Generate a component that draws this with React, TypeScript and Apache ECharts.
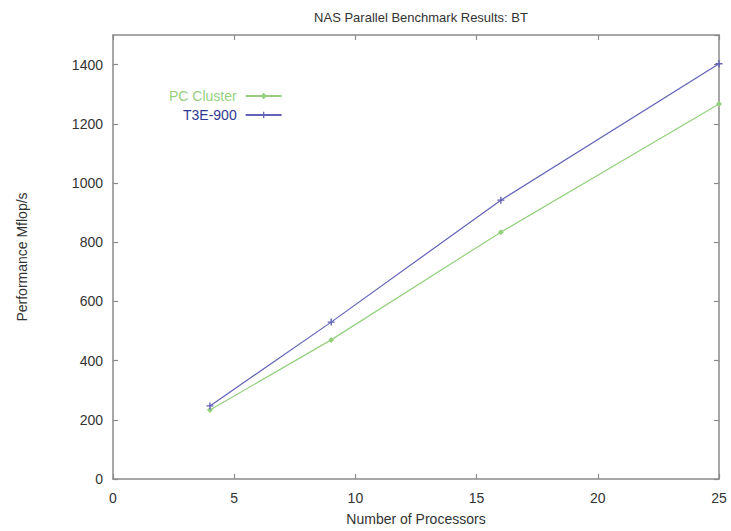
import React, { useEffect, useRef } from "react";
import * as echarts from "echarts";

const processors = [4, 9, 16, 25];
const pcCluster = [233, 470, 834, 1267];
const t3e900 = [247, 530, 942, 1403];
const seriesNames = ["PC Cluster", "T3E-900"];
const xTicks = [0, 5, 10, 15, 20, 25];
const yTicks = [0, 200, 400, 600, 800, 1000, 1200, 1400];

const GREEN = "#94d17e";
const BLUE = "#6262b8";
const AXIS = "#8a8a8a";
const FONT = "Liberation Sans, Arial, Helvetica, sans-serif";

export default function App() {
  const ref = useRef<HTMLDivElement>(null);
  useEffect(() => {
    if (!ref.current) return;
    const chart = echarts.init(ref.current, undefined, { renderer: "svg" });
    const toPairs = (ys: number[]) => processors.map((x, i) => [x, ys[i]]);
    const mainAxis = {
      axisLine: { show: true, onZero: false, lineStyle: { color: AXIS, width: 1.5 } },
      axisTick: { show: true, inside: true, length: 5, lineStyle: { color: AXIS, width: 1.2 } },
      splitLine: { show: false },
    };
    const mirrorAxis = {
      show: true,
      axisLine: { show: true, onZero: false, lineStyle: { color: AXIS, width: 1.5 } },
      axisTick: { show: true, inside: true, length: 5, lineStyle: { color: AXIS, width: 1.2 } },
      axisLabel: { show: false },
      splitLine: { show: false },
    };
    chart.setOption({
      animation: false,
      backgroundColor: "#ffffff",
      title: {
        text: "NAS Parallel Benchmark Results: BT",
        left: 416,
        textAlign: "center",
        top: 6,
        textStyle: { fontFamily: FONT, fontSize: 13, fontWeight: "normal", color: "#333" },
      },
      grid: {
        left: 113,
        right: 12,
        top: 35,
        bottom: 52,
        containLabel: false,
        outerBoundsMode: "none",
      },
      legend: {
        orient: "vertical",
        align: "right",
        left: 164,
        top: 84,
        itemGap: 5,
        itemWidth: 36,
        itemHeight: 8,
        data: [
          { name: seriesNames[0], textStyle: { color: GREEN } },
          { name: seriesNames[1], textStyle: { color: "#2e3a92" } },
        ],
        textStyle: { fontFamily: FONT, fontSize: 14, padding: [0, 4, 0, 0] },
      },
      xAxis: [
        {
          type: "value",
          min: 0,
          max: 25,
          interval: 5,
          name: "Number of Processors",
          nameLocation: "middle",
          nameGap: 33,
          nameTextStyle: { fontFamily: FONT, fontSize: 14, color: "#333" },
          axisLabel: {
            fontFamily: FONT,
            fontSize: 14,
            color: "#333",
            margin: 12,
            customValues: xTicks,
          },
          ...mainAxis,
        },
        {
          type: "value",
          position: "top",
          min: 0,
          max: 25,
          interval: 5,
          ...mirrorAxis,
        },
      ],
      yAxis: [
        {
          type: "value",
          min: 0,
          max: 1500,
          interval: 200,
          name: "Performance Mflop/s",
          nameLocation: "middle",
          nameGap: 84,
          nameTextStyle: { fontFamily: FONT, fontSize: 14, color: "#333" },
          axisLabel: {
            fontFamily: FONT,
            fontSize: 14,
            color: "#333",
            margin: 10,
            showMaxLabel: false,
            formatter: (v: number) => (yTicks.includes(v) ? String(v) : ""),
          },
          ...mainAxis,
        },
        {
          type: "value",
          position: "right",
          min: 0,
          max: 1500,
          interval: 200,
          ...mirrorAxis,
        },
      ],
      series: [
        {
          name: seriesNames[0],
          type: "line",
          data: toPairs(pcCluster),
          symbol: "diamond",
          symbolSize: 6,
          showAllSymbol: true,
          lineStyle: { color: GREEN, width: 1.2 },
          itemStyle: { color: GREEN },
        },
        {
          name: seriesNames[1],
          type: "line",
          data: toPairs(t3e900),
          symbol: "path://M4,0H6V4H10V6H6V10H4V6H0V4H4Z",
          symbolSize: 7,
          lineStyle: { color: BLUE, width: 1.2 },
          itemStyle: { color: BLUE },
        },
        {
          name: "mirror",
          type: "line",
          xAxisIndex: 1,
          yAxisIndex: 1,
          data: toPairs(t3e900),
          symbol: "none",
          silent: true,
          lineStyle: { opacity: 0 },
        },
      ],
    });
    return () => chart.dispose();
  }, []);
  return (
    <div
      ref={ref}
      style={{ position: "fixed", left: 0, top: 0, width: 731, height: 531 }}
    />
  );
}
